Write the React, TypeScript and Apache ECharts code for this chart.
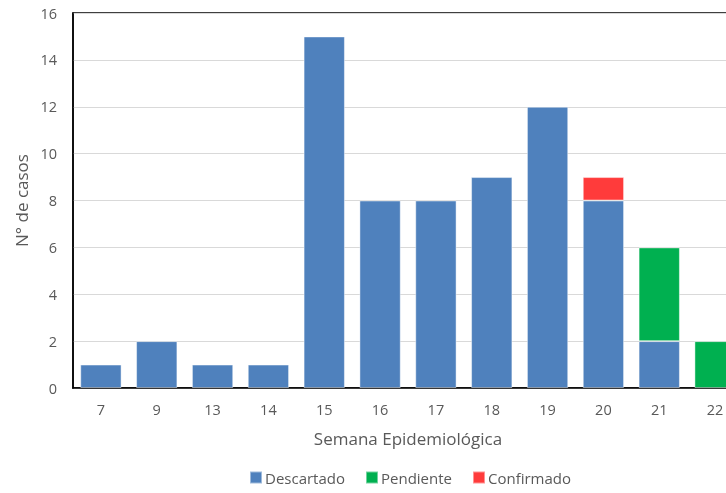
import React, { useEffect, useRef } from "react";
import * as echarts from "echarts";

const categories = ["7", "9", "13", "14", "15", "16", "17", "18", "19", "20", "21", "22"];
const descartado = [1, 2, 1, 1, 15, 8, 8, 9, 12, 8, 2, 0];
const pendiente = [0, 0, 0, 0, 0, 0, 0, 0, 0, 0, 4, 2];
const confirmado = [0, 0, 0, 0, 0, 0, 0, 0, 0, 1, 0, 0];

const FONT = "'Open Sans', 'Liberation Sans', sans-serif";
const TXT = "#595959";

export default function App() {
  const ref = useRef<HTMLDivElement>(null);
  useEffect(() => {
    document.body.style.margin = "0";
    document.body.style.overflow = "hidden";
    const chart = echarts.init(ref.current!, undefined, { renderer: "svg" });
    const mk = (name: string, data: number[], color: string) => ({
      name,
      type: "bar",
      stack: "total",
      data: data.map((v) => (v === 0 ? null : v)),
      barWidth: "74%",
      itemStyle: { color, borderColor: "rgba(255,255,255,0.45)", borderWidth: 1 },
    });
    chart.setOption({
      animation: false,
      textStyle: { fontFamily: FONT },
      grid: {
        left: 73,
        right: 17,
        top: 13,
        bottom: 105,
        show: true,
        borderColor: "#000",
        borderWidth: 1.5,
      },
      legend: {
        bottom: 3,
        left: 244,
        itemWidth: 12,
        itemHeight: 12,
        itemGap: 20,
        icon: "rect",
        textStyle: { fontFamily: FONT, fontSize: 15, color: TXT, padding: [0, 0, 0, -2] },
        data: ["Descartado", "Pendiente", "Confirmado"],
      },
      xAxis: {
        type: "category",
        data: categories,
        name: "Semana Epidemiológica",
        nameLocation: "middle",
        nameGap: 42,
        nameTextStyle: { fontFamily: FONT, fontSize: 17, color: TXT },
        axisLine: { lineStyle: { color: "#000", width: 1.5 } },
        axisTick: { show: false },
        axisLabel: { fontFamily: FONT, fontSize: 14.5, color: TXT, margin: 14 },
      },
      yAxis: {
        type: "value",
        min: 0,
        max: 16,
        interval: 2,
        name: "N° de casos",
        nameLocation: "middle",
        nameGap: 34,
        nameRotate: 90,
        nameTextStyle: { fontFamily: FONT, fontSize: 17, color: TXT },
        axisLine: { show: true, lineStyle: { color: "#000", width: 1.5 } },
        axisTick: { show: false },
        axisLabel: { fontFamily: FONT, fontSize: 14.5, color: TXT, margin: 16 },
        splitLine: { lineStyle: { color: "#d9d9d9", width: 1 } },
      },
      series: [
        mk("Descartado", descartado, "#4F81BD"),
        mk("Pendiente", pendiente, "#00B050"),
        mk("Confirmado", confirmado, "#FF3B3B"),
      ],
    });
    return () => chart.dispose();
  }, []);
  return (
    <div style={{ position: "fixed", left: 0, top: 0, width: 726, height: 493, overflow: "hidden" }}>
      <div ref={ref} style={{ width: 760, height: 493 }} />
    </div>
  );
}
